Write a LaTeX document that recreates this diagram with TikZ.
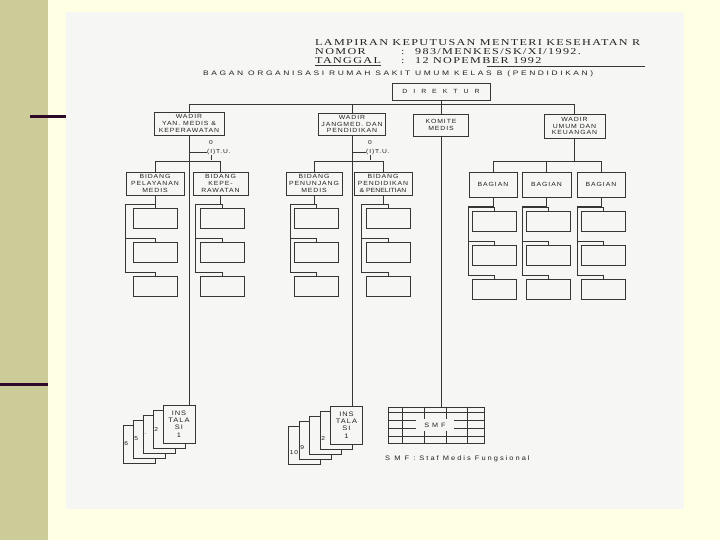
\documentclass[tikz,border=0pt]{standalone}
\usepackage{fontspec}
\usepackage{tikz}
\usetikzlibrary{calc}
\usetikzlibrary{positioning}
\newfontfamily\headfont[FakeStretch=1.35, LetterSpace=15]{Liberation Serif}
\newfontfamily\titlefont[FakeStretch=1.3, LetterSpace=40]{Liberation Sans}
\newfontfamily\boxfont[FakeStretch=1.15, LetterSpace=15]{Liberation Sans}
\definecolor{slidebg}{HTML}{FFFFE3}
\definecolor{band}{HTML}{CCCC99}
\definecolor{bar}{HTML}{2E0A28}
\definecolor{paper}{HTML}{F6F6F4}
\definecolor{ink}{HTML}{363636}
\definecolor{type}{HTML}{202020}
\tikzset{ln/.style = {draw=ink, line width=0.8pt}}
\tikzset{box/.style = {draw=ink, line width=0.8pt, fill=paper, inner sep=0pt,
                       align=center, text=type,
                       font=\boxfont\fontsize{6}{6.8}\selectfont}}
\tikzset{subbox/.style = {box, minimum width=44, minimum height=20}}
\tikzset{card/.style = {box, minimum width=32, minimum height=38,
                        font=\boxfont\fontsize{6.5}{7.4}\selectfont}}
\tikzset{cardnum/.style = {inner sep=0.5pt, text=type, anchor=west,
                           font=\boxfont\fontsize{5.8}{6}\selectfont}}
\tikzset{head/.style = {inner sep=0pt, text=type, anchor=west,
                        font=\headfont\fontsize{9}{10}\selectfont}}
\tikzset{small/.style = {inner sep=0pt, text=type,
                         font=\boxfont\fontsize{5.8}{6}\selectfont}}
\begin{document}
\begin{tikzpicture}[x=1pt, y=-1pt]
  \useasboundingbox (0, 0) rectangle (720, 540);
  \fill [slidebg] (0, 0) rectangle (720, 540);
  \fill [band] (0, 0) rectangle (48, 540);
  \fill [paper] (66, 12) rectangle (684, 509);
  \draw [bar, line width=3pt] (30, 117) -- (66, 117);
  \draw [bar, line width=3pt] (0, 384) -- (48, 384);

  \node [head] (lamp) at (315, 43) {LAMPIRAN KEPUTUSAN MENTERI KESEHATAN R};
  \node [head] (nom) at (315, 52) {NOMOR};
  \node [head] (nomc) at (401, 52) {:};
  \node [head] (nomv) at (415, 52) {983/MENKES/SK/XI/1992.};
  \node [head] (tgl) at (315, 61) {TANGGAL};
  \node [head] (tglc) at (401, 61) {:};
  \node [head] (tglv) at (415, 61) {12 NOPEMBER 1992};
  \draw [ln] ([yshift=-1.5pt]tgl.south west) -- ([yshift=-1.5pt]tgl.south east);
  \draw [ln] (487, 66) -- (645, 66);
  \node [inner sep=0pt, text=type, anchor=west, font=\titlefont\fontsize{6.5}{7}\selectfont]
    (bagan) at (203, 74) {BAGAN ORGANISASI RUMAH SAKIT UMUM KELAS B (PENDIDIKAN)};

  \node [box, minimum width=98, minimum height=17] (dir) at (441, 91.5)
    {\addfontfeatures{LetterSpace=100}DIREKTUR};
  \node [box, minimum width=70, minimum height=23] (w1) at (189, 123.5)
    {WADIR\\YAN. MEDIS \&\\KEPERAWATAN};
  \node [box, minimum width=67, minimum height=22] (w2) at (352, 124)
    {WADIR\\JANGMED. DAN\\PENDIDIKAN};
  \node [box, minimum width=55, minimum height=22] (km) at (441, 125)
    {KOMITE\\MEDIS};
  \node [box, minimum width=61, minimum height=24] (wu) at (574.5, 126)
    {WADIR\\UMUM DAN\\KEUANGAN};
  \coordinate (bus) at (0, 105);
  \draw [ln] (w1.north) -- ++(0, -7) -| (wu.north);
  \draw [ln] (w2.north) -- (w2.north |- bus);
  \draw [ln] (dir.south) -- (km.north);

  \node [small] (o1) at (211, 143) {0};
  \node [small, anchor=west] (tu1) at (207, 152) {(I)T.U.};
  \node [small] (o2) at (370, 143) {0};
  \node [small, anchor=west] (tu2) at (366, 152) {(I)T.U.};
  \draw [ln] (w1.south |- tu1.west) -- (tu1.west);
  \draw [ln] (w2.south |- tu2.west) -- (tu2.west);
  \draw [ln] ([xshift=4pt]tu1.south west) -- ++(0, 5);
  \draw [ln] ([xshift=4pt]tu2.south west) -- ++(0, 5);

  \node [box, minimum width=58, minimum height=23] (b1) at (155, 183.5)
    {BIDANG\\PELAYANAN\\MEDIS};
  \node [box, minimum width=55, minimum height=23] (b2) at (220.5, 183.5)
    {BIDANG\\KEPE-\\RAWATAN};
  \node [box, minimum width=56, minimum height=23] (b3) at (314, 183.5)
    {BIDANG\\PENUNJANG\\MEDIS};
  \node [box, minimum width=58, minimum height=23] (b4) at (383, 183.5)
    {BIDANG\\PENDIDIKAN\\\addfontfeatures{LetterSpace=0}\& PENELITIAN};
  \draw [ln] (b1.north) -- ++(0, -10) -| (b2.north);
  \draw [ln] (b3.north) -- ++(0, -10) -| (b4.north);

  \node [box, minimum width=48, minimum height=25] (g1) at (493, 184.5) {BAGIAN};
  \node [box, minimum width=49, minimum height=25] (g2) at (546.5, 184.5) {BAGIAN};
  \node [box, minimum width=48, minimum height=25] (g3) at (601, 184.5) {BAGIAN};
  \draw [ln] (g1.north) -- ++(0, -10) -| (g3.north);
  \draw [ln] (g2.north) -- ++(0, -10);
  \draw [ln] (wu.south) -- ++(0, 24);

  \foreach \n/\x/\ty/\sp in {b1/155/218/125, b2/222/218/195, b3/316/218/290,
                            b4/388/218/361, g1/494/221/468, g2/548/221/522,
                            g3/603/221/577} {
    \foreach \k in {0, 1, 2} {
      \node [subbox] (\n-\k) at (\x, \ty+34*\k) {};
      \draw [ln] (\n.south) -- ++(0, 9) -| (\sp, \ty+34*\k-14) -| (\n-\k.north);
    }
  }

  \coordinate (ins1-c) at (179, 424);
  \foreach \k/\lab in {4/6, 3/5, 2/{.}, 1/2} {
    \node [card] (ins1-\k) at ($(ins1-c)+(-10*\k, 5*\k)$) {};
    \node [cardnum] (ins1-\k-n) at ([xshift=1pt]ins1-\k.west) {\lab};
  }
  \node [card] (ins1) at (ins1-c) {INS\\TALA\\SI\\1};
  \coordinate (ins2-c) at (346.5, 425);
  \foreach \k/\lab in {4/10, 3/9, 2/{}, 1/2} {
    \node [card] (ins2-\k) at ($(ins2-c)+(-10.5*\k, 5*\k)$) {};
    \node [cardnum] (ins2-\k-n) at ([xshift=1pt, yshift=-8pt]ins2-\k.west) {\lab};
  }
  \node [card] (ins2) at (ins2-c) {INS\\TALA\\SI\\1};
  \draw [ln] (w1.south) -- (w1.south |- ins1.north);
  \draw [ln] (w2.south) -- (w2.south |- ins2.north);

  \node [box, minimum width=96, minimum height=36] (smf) at (436, 425) {};
  \foreach \gx in {15, 37, 59, 80}
    \draw [ln] ($(smf.north west)+(\gx, 0)$) -- ($(smf.south west)+(\gx, 0)$);
  \foreach \gy in {6, 14, 22, 30}
    \draw [ln] ($(smf.north west)+(0, \gy)$) -- ($(smf.north east)+(0, \gy)$);
  \node [fill=paper, inner sep=0pt, minimum width=38, minimum height=12, text=type,
         font=\boxfont\fontsize{6.3}{6.5}\selectfont] (smft) at (435, 425) {S M F};
  \draw [ln] (km.south) -- (km.south |- smf.north);
  \node [inner sep=0pt, anchor=west, text=type,
         font=\boxfont\fontsize{6.5}{7}\selectfont\addfontfeatures{LetterSpace=31}]
    (smfcap) at (385, 459) {S M F : Staf Medis Fungsional};
\end{tikzpicture}
\end{document}
